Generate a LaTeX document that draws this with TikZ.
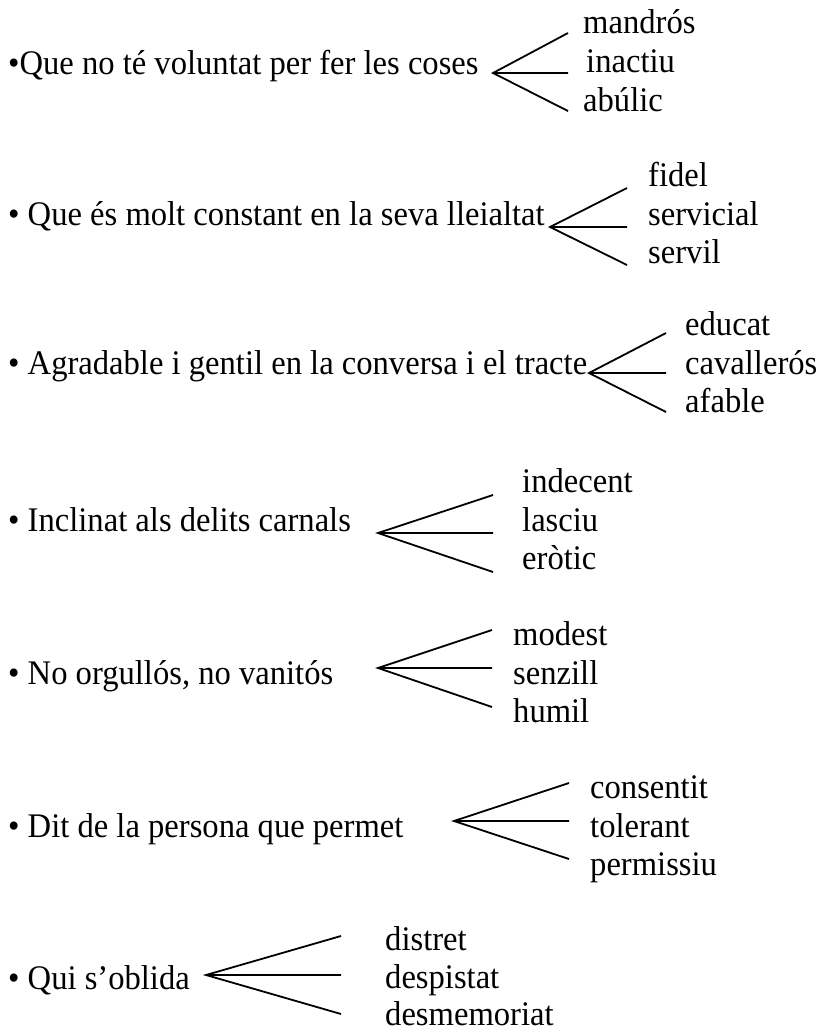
\documentclass[tikz,border=0pt]{standalone}
\usepackage{fontspec}
\setmainfont[FakeStretch=0.945]{Liberation Serif}
\begin{document}
\begin{tikzpicture}[x=1pt,y=-1pt,
  txt/.style={inner sep=0pt,anchor=base west,font=\fontsize{34.5}{38}\selectfont},
  fan/.style={line width=1.8pt,line cap=butt}]
\useasboundingbox (0,0) rectangle (816,1029);
% Group 1
\node[txt] (m1) at (8,74) {•Que no té voluntat per fer les coses};
\node[txt] (l1a) at (583,33) {mandrós};
\node[txt] (l1b) at (586,72) {inactiu};
\node[txt] (l1c) at (583,111) {abúlic};
\coordinate (a1) at (493,73);
\coordinate (e1a) at (568,33);
\coordinate (e1b) at (568,73);
\coordinate (e1c) at (568,111);
\draw[fan] (e1a) -- (a1) -- (e1c) (a1) -- (e1b);
% Group 2
\node[txt] (m2) at (8,225) {• Que és molt constant en la seva lleialtat};
\node[txt] (l2a) at (648,186) {fidel};
\node[txt] (l2b) at (648,225) {servicial};
\node[txt] (l2c) at (648,263) {servil};
\coordinate (a2) at (550,227);
\coordinate (e2a) at (627,188);
\coordinate (e2b) at (627,227);
\coordinate (e2c) at (627,265);
\draw[fan] (e2a) -- (a2) -- (e2c) (a2) -- (e2b);
% Group 3
\node[txt] (m3) at (8,374) {• Agradable i gentil en la conversa i el tracte};
\node[txt] (l3a) at (685,335) {educat};
\node[txt] (l3b) at (685,374) {cavallerós};
\node[txt] (l3c) at (685,412) {afable};
\coordinate (a3) at (589,373);
\coordinate (e3a) at (666,333);
\coordinate (e3b) at (666,373);
\coordinate (e3c) at (666,412);
\draw[fan] (e3a) -- (a3) -- (e3c) (a3) -- (e3b);
% Group 4
\node[txt] (m4) at (8,531) {• Inclinat als delits carnals};
\node[txt] (l4a) at (522,492) {indecent};
\node[txt] (l4b) at (522,531) {lasciu};
\node[txt] (l4c) at (522,569) {eròtic};
\coordinate (a4) at (378,533);
\coordinate (e4a) at (493,495);
\coordinate (e4b) at (493,533);
\coordinate (e4c) at (493,572);
\draw[fan] (e4a) -- (a4) -- (e4c) (a4) -- (e4b);
% Group 5
\node[txt] (m5) at (8,684) {• No orgullós, no vanitós};
\node[txt] (l5a) at (513,645) {modest};
\node[txt] (l5b) at (513,684) {senzill};
\node[txt] (l5c) at (513,722) {humil};
\coordinate (a5) at (378,668);
\coordinate (e5a) at (492,630);
\coordinate (e5b) at (492,668);
\coordinate (e5c) at (492,707);
\draw[fan] (e5a) -- (a5) -- (e5c) (a5) -- (e5b);
% Group 6
\node[txt] (m6) at (8,837) {• Dit de la persona que permet};
\node[txt] (l6a) at (590,798) {consentit};
\node[txt] (l6b) at (590,837) {tolerant};
\node[txt] (l6c) at (590,875) {permissiu};
\coordinate (a6) at (454,821);
\coordinate (e6a) at (569,783);
\coordinate (e6b) at (569,821);
\coordinate (e6c) at (569,859);
\draw[fan] (e6a) -- (a6) -- (e6c) (a6) -- (e6b);
% Group 7
\node[txt] (m7) at (8,989) {• Qui s’oblida};
\node[txt] (l7a) at (385,950) {distret};
\node[txt] (l7b) at (385,988) {despistat};
\node[txt] (l7c) at (385,1025) {desmemoriat};
\coordinate (a7) at (206,975);
\coordinate (e7a) at (341,936);
\coordinate (e7b) at (341,975);
\coordinate (e7c) at (341,1014);
\draw[fan] (e7a) -- (a7) -- (e7c) (a7) -- (e7b);
\end{tikzpicture}
\end{document}
